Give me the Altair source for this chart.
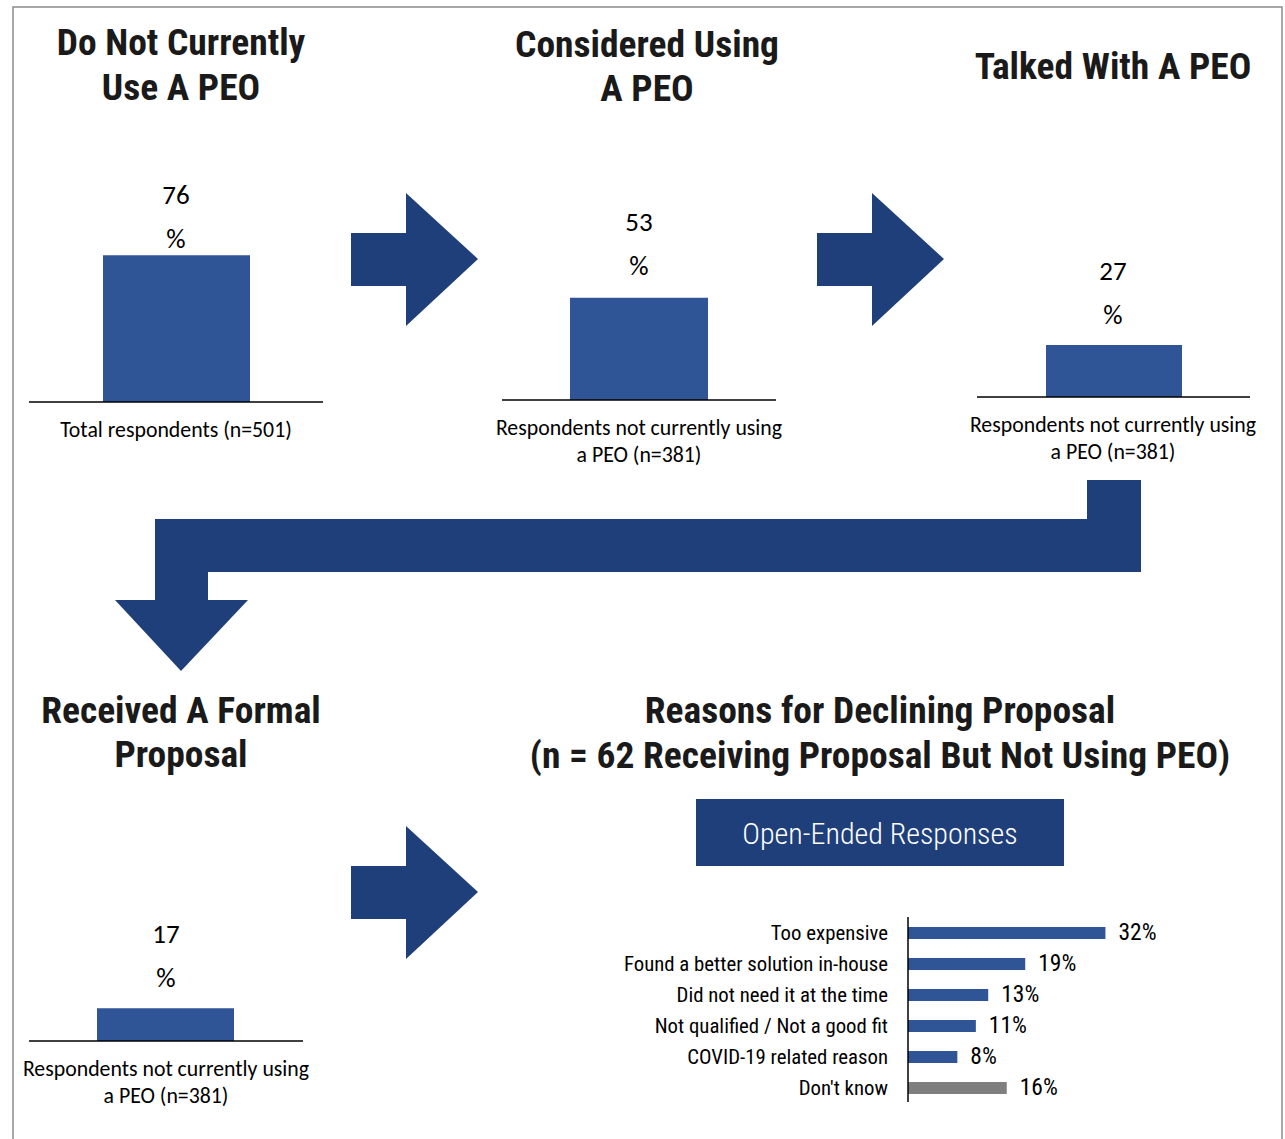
import altair as alt
import pandas as pd

W, H = 1285, 1139
BAR_BLUE = "#2F5597"
ARROW_BLUE = "#1F3F7A"
GRAY = "#7F7F7F"
FRAME = "#8C8C8C"
TITLE_FONT = "'Roboto Condensed', 'Barlow Condensed', sans-serif"
BODY_FONT = "Carlito, Lato, sans-serif"
NARROW_FONT = "'Roboto Condensed', 'Archivo Narrow', sans-serif"
BOX_FONT = "'Roboto Condensed', sans-serif"

# ---------------- data ----------------
funnel_values = [76, 53, 27, 17]
funnel_title_lines = [
    ["Do Not Currently", "Use A PEO"],
    ["Considered Using", "A PEO"],
    ["Talked With A PEO"],
    ["Received A Formal", "Proposal"],
]
funnel_notes = [
    ["Total respondents (n=501)"],
    ["Respondents not currently using", "a PEO (n=381)"],
    ["Respondents not currently using", "a PEO (n=381)"],
    ["Respondents not currently using", "a PEO (n=381)"],
]
reason_labels = [
    "Too expensive",
    "Found a better solution in-house",
    "Did not need it at the time",
    "Not qualified / Not a good fit",
    "COVID-19 related reason",
    "Don't know",
]
reason_values = [32, 19, 13, 11, 8, 16]
reason_kind = ["reason", "reason", "reason", "reason", "reason", "dk"]
section_title = ["Reasons for Declining Proposal",
                 "(n = 62 Receiving Proposal But Not Using PEO)"]
box_label = "Open-Ended Responses"

# ---------------- layout ----------------
title_cx = [181, 647, 1113, 181]
title_base = [[55, 100], [57, 101], [79], [723, 767]]
bar_cx = [176, 639, 1113, 166]
bar_left = [103, 570, 1046, 97]
bar_right = [250, 708, 1182, 234]
bar_base = [402, 400, 397, 1041]
px_per_pct = 1.93
axis_left = [29, 502, 977, 29]
axis_right = [323, 776, 1250, 303]
num_base = [204, 231, 280, 943]
pct_base = [248, 275, 324, 987]
note_base = [[437], [435, 462], [432, 459], [1076, 1103]]

hbar_axis_x = 908
hbar_first_y = 933
hbar_step = 31
hbar_half = 6
hbar_px_per_pct = 6.17
section_cx = 880
section_base = [723, 768]
box = dict(x=696, x2=1064, y=799, y2=866)

# arrows: shaft rects (x, x2, y, y2); heads (x_base, x_tip, y_top, y_bottom, y_tip)
shafts = [(351, 406, 233, 286), (817, 872, 233, 286), (351, 406, 866, 919),
          (1087, 1141, 480, 572), (155, 1141, 519, 572), (155, 208, 519, 600)]
right_heads = [(406, 478, 193, 326, 259), (872, 944, 193, 326, 259),
               (406, 478, 826, 959, 892)]
down_head = (600, 671, 115, 248, 181)

xs = alt.Scale(domain=[0, W], nice=False, zero=False)
ys = alt.Scale(domain=[0, H], nice=False, zero=False, reverse=True)


def X(f="x"):
    return alt.X(f"{f}:Q", scale=xs, axis=None)


def Y(f="y"):
    return alt.Y(f"{f}:Q", scale=ys, axis=None)


# ---------------- frame ----------------
frame = alt.Chart(pd.DataFrame([dict(x=13, x2=1282, y=7, y2=1150)])).mark_rect(
    filled=False, stroke=FRAME, strokeWidth=1.5
).encode(x=X(), x2="x2:Q", y=Y(), y2="y2:Q")

# ---------------- arrows ----------------
shaft_df = pd.DataFrame([dict(x=a, x2=b, y=c, y2=d) for a, b, c, d in shafts])
shaft_layer = alt.Chart(shaft_df).mark_rect(color=ARROW_BLUE).encode(
    x=X(), x2="x2:Q", y=Y(), y2="y2:Q")

head_rows = []
for i, (xb, xt, yt, yb, ytip) in enumerate(right_heads):
    head_rows.append(dict(id=i, x=xb, y=yt, y2=yb))
    head_rows.append(dict(id=i, x=xt, y=ytip, y2=ytip))
heads_layer = alt.Chart(pd.DataFrame(head_rows)).mark_area(
    color=ARROW_BLUE, orient="vertical").encode(
    x=X(), y=Y(), y2="y2:Q", detail="id:N")

yb, yt, xl, xr, xtip = down_head
down_df = pd.DataFrame([dict(y=yb, x=xl, x2=xr), dict(y=yt, x=xtip, x2=xtip)])
down_layer = alt.Chart(down_df).mark_area(
    color=ARROW_BLUE, orient="horizontal").encode(
    y=Y(), x=X(), x2="x2:Q")

# ---------------- funnel panels ----------------
bar_df = pd.DataFrame(dict(value=funnel_values, left=bar_left, right=bar_right,
                           base=bar_base))
funnel_bars = alt.Chart(bar_df).transform_calculate(
    top=f"datum.base - datum.value * {px_per_pct}"
).mark_rect(color=BAR_BLUE).encode(
    x=X("left"), x2="right:Q", y=Y("top"), y2="base:Q")

axis_df = pd.DataFrame(dict(x=axis_left, x2=axis_right, y=bar_base))
funnel_axes = alt.Chart(axis_df).mark_rule(color="#000000", strokeWidth=1.5).encode(
    x=X(), x2="x2:Q", y=Y())

title_rows = []
for i, lines in enumerate(funnel_title_lines):
    for line, yb_ in zip(lines, title_base[i]):
        title_rows.append(dict(x=title_cx[i], y=yb_, text=line))
for line, yb_ in zip(section_title, section_base):
    title_rows.append(dict(x=section_cx, y=yb_, text=line))
titles = alt.Chart(pd.DataFrame(title_rows)).mark_text(
    font=TITLE_FONT, fontSize=37.5, fontWeight="bold", color="#1A1A1A",
    align="center", baseline="alphabetic").encode(x=X(), y=Y(), text="text:N")

num_rows = []
for i, v in enumerate(funnel_values):
    num_rows.append(dict(x=bar_cx[i], y=num_base[i], text=str(v)))
    num_rows.append(dict(x=bar_cx[i], y=pct_base[i], text="%"))
nums = alt.Chart(pd.DataFrame(num_rows)).mark_text(
    font=BODY_FONT, fontSize=27, color="#000000", align="center",
    baseline="alphabetic").encode(x=X(), y=Y(), text="text:N")

note_rows = []
for i, lines in enumerate(funnel_notes):
    for line, yb_ in zip(lines, note_base[i]):
        note_rows.append(dict(x=bar_cx[i], y=yb_, text=line))
notes = alt.Chart(pd.DataFrame(note_rows)).mark_text(
    font=BODY_FONT, fontSize=21.8, color="#000000", align="center",
    baseline="alphabetic").encode(x=X(), y=Y(), text="text:N")

# ---------------- box ----------------
box_layer = alt.Chart(pd.DataFrame([box])).mark_rect(color=ARROW_BLUE).encode(
    x=X(), x2="x2:Q", y=Y(), y2="y2:Q")
box_text = alt.Chart(pd.DataFrame([dict(x=(box["x"] + box["x2"]) / 2,
                                         y=(box["y"] + box["y2"]) / 2 + 11,
                                         text=box_label)])).mark_text(
    font=BOX_FONT, fontSize=30, fontWeight=300, color="#FFFFFF", align="center",
    baseline="alphabetic").encode(x=X(), y=Y(), text="text:N")

# ---------------- reasons bar chart ----------------
hb_df = pd.DataFrame(dict(label=reason_labels, value=reason_values,
                          kind=reason_kind,
                          yc=[hbar_first_y + hbar_step * i for i in range(len(reason_values))]))
hb_base = alt.Chart(hb_df).transform_calculate(
    x0=str(hbar_axis_x),
    xend=f"{hbar_axis_x} + datum.value * {hbar_px_per_pct}",
    ytop=f"datum.yc - {hbar_half}",
    ybot=f"datum.yc + {hbar_half}",
    ytxt="datum.yc + 7",
    xlab=f"{hbar_axis_x} - 20",
    xval=f"{hbar_axis_x} + datum.value * {hbar_px_per_pct} + 13",
    vtxt="datum.value + '%'",
)
hb_bars = hb_base.mark_rect().encode(
    x=X("x0"), x2="xend:Q", y=Y("ytop"), y2="ybot:Q",
    color=alt.Color("kind:N", scale=alt.Scale(domain=["reason", "dk"],
                                              range=[BAR_BLUE, GRAY]), legend=None))
hb_labels = hb_base.mark_text(font=NARROW_FONT, fontSize=20.8, color="#000000",
                              align="right", baseline="alphabetic").encode(
    x=X("xlab"), y=Y("ytxt"), text="label:N")
hb_vals = hb_base.mark_text(font=NARROW_FONT, fontSize=23.5, color="#000000",
                            align="left", baseline="alphabetic").encode(
    x=X("xval"), y=Y("ytxt"), text="vtxt:N")
hb_axis = alt.Chart(pd.DataFrame([dict(x=hbar_axis_x, y=hbar_first_y - 16,
                                       y2=hbar_first_y + hbar_step * 5 + 14)])).mark_rule(
    color="#000000", strokeWidth=1.5).encode(x=X(), y=Y(), y2="y2:Q")

chart = alt.layer(
    frame, shaft_layer, heads_layer, down_layer,
    funnel_bars, funnel_axes, titles, nums, notes,
    box_layer, box_text, hb_bars, hb_axis, hb_labels, hb_vals,
).properties(
    width=W, height=H, padding=0,
    autosize=alt.AutoSizeParams(type="none"),
).configure_view(stroke=None)

chart.save("out.html", embed_options={"renderer": "svg", "actions": False})
